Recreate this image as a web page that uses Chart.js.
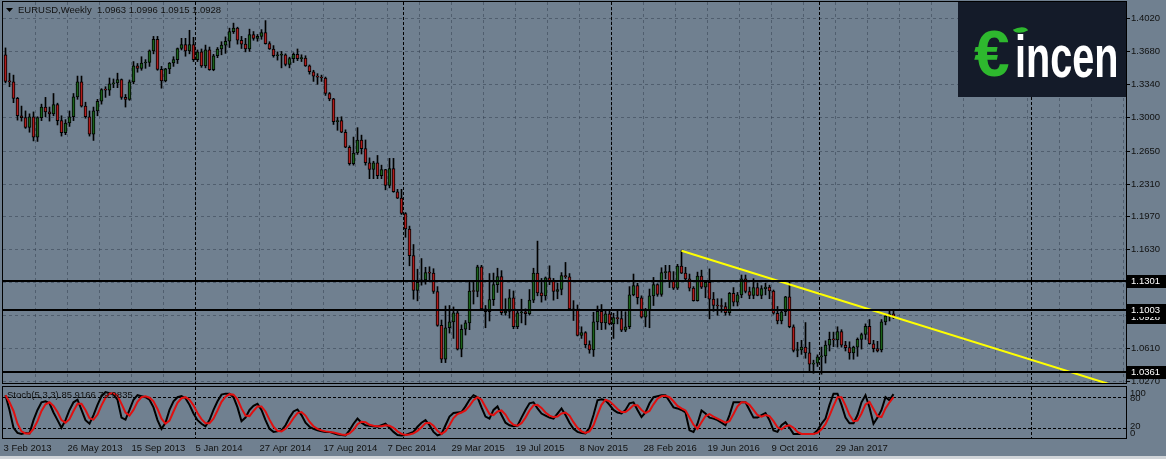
<!DOCTYPE html>
<html><head><meta charset="utf-8">
<script src="https://cdn.jsdelivr.net/npm/chart.js@4.4.0/dist/chart.umd.min.js"></script>
<style>
html,body{margin:0;padding:0;background:#708090;width:1166px;height:459px;overflow:hidden;}
#main{position:absolute;left:0;top:0;}
#stoch{position:absolute;left:0;top:385px;}
#logo{position:absolute;left:958px;top:2px;width:168px;height:95px;background:#141b29;overflow:hidden;}
#logo .e{position:absolute;left:16px;top:20px;font:bold 64px "Liberation Sans",sans-serif;color:#2eb82e;line-height:64px;}
#logo .t{position:absolute;left:57px;top:25px;font:bold 60px "Liberation Sans",sans-serif;color:#ffffff;line-height:60px;transform:scaleX(0.66);transform-origin:0 0;white-space:nowrap;}
#logo .leaf{position:absolute;left:56px;top:24px;width:13px;height:8px;background:#2eb82e;border-radius:0 100% 0 100%;transform:rotate(-30deg);}
#foot{position:absolute;left:0;top:456px;width:1166px;height:3px;background:#d0d4d8;}
</style></head><body>
<canvas id="main" width="1166" height="385"></canvas>
<canvas id="stoch" width="1166" height="74"></canvas>
<div id="logo"><span class="e">€</span><span class="t">incen</span><span class="leaf"></span></div>
<div id="foot"></div>
<script>
// ---------- DATA ----------
const symbol = 'EURUSD';
const period = 'Weekly';
const opens = [1.3640,1.3365,1.3360,1.3190,1.3010,1.2990,1.2890,1.3000,1.2790,1.2990,
1.3100,1.3050,1.3030,1.3125,1.2960,1.2835,1.2935,1.3000,1.3205,1.3360,
1.3110,1.3000,1.2820,1.3060,1.3160,1.3280,1.3275,1.3340,1.3350,1.3385,
1.3200,1.3180,1.3360,1.3525,1.3500,1.3555,1.3560,1.3680,1.3800,1.3490,
1.3370,1.3495,1.3555,1.3590,1.3705,1.3745,1.3680,1.3745,1.3590,1.3670,
1.3525,1.3690,1.3485,1.3630,1.3700,1.3740,1.3780,1.3880,1.3915,1.3790,
1.3750,1.3700,1.3850,1.3810,1.3830,1.3870,1.3755,1.3700,1.3630,1.3635,
1.3640,1.3540,1.3600,1.3645,1.3600,1.3605,1.3525,1.3465,1.3420,1.3410,
1.3400,1.3240,1.3185,1.2950,1.2960,1.2840,1.2685,1.2515,1.2625,1.2760,
1.2670,1.2525,1.2455,1.2525,1.2390,1.2455,1.2290,1.2465,1.2225,1.2160,
1.2000,1.1840,1.1565,1.1205,1.1290,1.1315,1.1390,1.1385,1.1195,1.0845,
1.0495,1.0820,1.0880,1.0975,1.0600,1.0805,1.0870,1.1200,1.1195,1.1450,
1.1015,1.0985,1.1110,1.1265,1.1350,1.0975,1.0990,1.1130,1.0830,1.0975,
1.0985,1.0965,1.1105,1.1385,1.1180,1.1150,1.1335,1.1300,1.1195,1.1215,
1.1360,1.1345,1.1015,1.1005,1.0740,1.0770,1.0645,1.0590,1.0880,1.0990,
1.0870,1.0965,1.0860,1.0925,1.0915,1.0795,1.0830,1.1160,1.1255,1.1130,
1.0930,1.1000,1.1150,1.1265,1.1165,1.1390,1.1400,1.1305,1.1230,1.1458,
1.1385,1.1325,1.1230,1.1100,1.1355,1.1240,1.1290,1.1115,1.1050,1.1045,
1.1040,1.0975,1.1175,1.1085,1.1160,1.1325,1.1195,1.1155,1.1235,1.1155,
1.1225,1.1240,1.1200,1.0970,1.0890,1.0985,1.1140,1.0830,1.0585,1.0590,
1.0620,1.0560,1.0445,1.0455,1.0520,1.0530,1.0640,1.0700,1.0695,1.0780,
1.0640,1.0615,1.0560,1.0620,1.0700,1.0750,1.0835,1.0655,1.0605,1.0590,
1.0880,1.0940,1.0963];
const highs = [1.3711,1.3450,1.3430,1.3200,1.3110,1.3060,1.3030,1.3050,1.3000,1.3130,
1.3200,1.3100,1.3240,1.3140,1.3010,1.2970,1.3060,1.3240,1.3420,1.3420,
1.3150,1.3060,1.3100,1.3180,1.3290,1.3310,1.3400,1.3390,1.3450,1.3390,
1.3230,1.3380,1.3570,1.3550,1.3620,1.3590,1.3690,1.3830,1.3830,1.3520,
1.3500,1.3560,1.3620,1.3710,1.3810,1.3810,1.3893,1.3820,1.3690,1.3700,
1.3740,1.3720,1.3645,1.3715,1.3775,1.3825,1.3915,1.3967,1.3925,1.3830,
1.3810,1.3905,1.3880,1.3850,1.3900,1.3993,1.3775,1.3735,1.3670,1.3675,
1.3650,1.3615,1.3660,1.3700,1.3640,1.3630,1.3535,1.3480,1.3445,1.3430,
1.3410,1.3250,1.3190,1.2995,1.3000,1.2865,1.2700,1.2790,1.2887,1.2810,
1.2760,1.2575,1.2540,1.2600,1.2500,1.2456,1.2570,1.2570,1.2250,1.2250,
1.2010,1.1870,1.1680,1.1425,1.1535,1.1445,1.1450,1.1430,1.1245,1.0900,
1.1045,1.1050,1.1035,1.0990,1.0850,1.0895,1.1290,1.1290,1.1466,1.1465,
1.1050,1.1380,1.1385,1.1435,1.1410,1.1120,1.1215,1.1200,1.0990,1.1115,
1.1015,1.1215,1.1435,1.1715,1.1330,1.1345,1.1460,1.1330,1.1280,1.1390,
1.1495,1.1380,1.1100,1.1055,1.0830,1.0780,1.0685,1.0980,1.1045,1.1060,
1.0990,1.0990,1.0970,1.0990,1.0990,1.0985,1.1245,1.1375,1.1280,1.1150,
1.1020,1.1220,1.1340,1.1275,1.1440,1.1465,1.1465,1.1400,1.1475,1.1616,
1.1445,1.1375,1.1245,1.1395,1.1415,1.1300,1.1428,1.1185,1.1120,1.1120,
1.1080,1.1185,1.1235,1.1185,1.1365,1.1365,1.1240,1.1327,1.1285,1.1255,
1.1280,1.1260,1.1210,1.1040,1.0990,1.1145,1.1300,1.0850,1.0670,1.0690,
1.0874,1.0670,1.0485,1.0540,1.0620,1.0685,1.0775,1.0775,1.0830,1.0800,
1.0680,1.0675,1.0630,1.0715,1.0765,1.0860,1.0905,1.0690,1.0680,1.0905,
1.0950,1.0995,1.0996];
const lows = [1.3350,1.3310,1.3145,1.2965,1.2955,1.2880,1.2840,1.2750,1.2745,1.2960,
1.3000,1.2955,1.3010,1.2915,1.2800,1.2815,1.2900,1.2960,1.3180,1.3100,
1.2985,1.2800,1.2755,1.3010,1.3130,1.3200,1.3220,1.3300,1.3300,1.3180,
1.3100,1.3170,1.3340,1.3460,1.3480,1.3500,1.3520,1.3650,1.3480,1.3295,
1.3360,1.3445,1.3520,1.3550,1.3690,1.3625,1.3650,1.3570,1.3570,1.3510,
1.3505,1.3480,1.3475,1.3610,1.3640,1.3655,1.3715,1.3860,1.3750,1.3705,
1.3670,1.3675,1.3790,1.3780,1.3800,1.3750,1.3695,1.3615,1.3585,1.3505,
1.3525,1.3505,1.3560,1.3580,1.3570,1.3520,1.3440,1.3365,1.3335,1.3365,
1.3220,1.3165,1.2920,1.2860,1.2835,1.2680,1.2500,1.2500,1.2610,1.2615,
1.2500,1.2360,1.2360,1.2360,1.2360,1.2245,1.2265,1.2220,1.2155,1.1990,
1.1755,1.1460,1.1115,1.1098,1.1260,1.1270,1.1315,1.1175,1.0835,1.0460,
1.0460,1.0765,1.0710,1.0590,1.0520,1.0745,1.0800,1.1065,1.1140,1.1005,
1.0820,1.0890,1.1050,1.1185,1.0955,1.0950,1.0920,1.0810,1.0810,1.0870,
1.0850,1.0950,1.1080,1.1150,1.1085,1.1105,1.1265,1.1105,1.1120,1.1160,
1.1330,1.1010,1.0895,1.0735,1.0710,1.0615,1.0557,1.0524,1.0800,1.0800,
1.0805,1.0850,1.0710,1.0860,1.0780,1.0780,1.0810,1.1150,1.1065,1.0920,
1.0830,1.0820,1.1050,1.1145,1.1145,1.1325,1.1235,1.1215,1.1215,1.1380,
1.1315,1.1200,1.1095,1.1095,1.1225,1.1130,1.0912,1.0990,1.0950,1.0980,
1.0950,1.0950,1.1045,1.1045,1.1130,1.1180,1.1120,1.1120,1.1150,1.1120,
1.1160,1.1120,1.0960,1.0860,1.0860,1.0945,1.0820,1.0570,1.0520,1.0545,
1.0505,1.0365,1.0350,1.0420,1.0340,1.0455,1.0580,1.0625,1.0620,1.0620,
1.0580,1.0495,1.0495,1.0525,1.0600,1.0700,1.0650,1.0570,1.0570,1.0570,
1.0850,1.0890,1.0915];
const closes = [1.3365,1.3360,1.3190,1.3010,1.2990,1.2890,1.3000,1.2790,1.2990,1.3100,
1.3050,1.3030,1.3125,1.2960,1.2835,1.2935,1.3000,1.3205,1.3360,1.3110,
1.3000,1.2820,1.3060,1.3160,1.3280,1.3275,1.3340,1.3350,1.3385,1.3200,
1.3180,1.3360,1.3525,1.3500,1.3555,1.3560,1.3680,1.3800,1.3490,1.3370,
1.3495,1.3555,1.3590,1.3705,1.3745,1.3680,1.3745,1.3590,1.3670,1.3525,
1.3690,1.3485,1.3630,1.3700,1.3740,1.3780,1.3880,1.3915,1.3790,1.3750,
1.3700,1.3850,1.3810,1.3830,1.3870,1.3755,1.3700,1.3630,1.3635,1.3640,
1.3540,1.3600,1.3645,1.3600,1.3605,1.3525,1.3465,1.3420,1.3410,1.3400,
1.3240,1.3185,1.2950,1.2960,1.2840,1.2685,1.2515,1.2625,1.2760,1.2670,
1.2525,1.2455,1.2525,1.2390,1.2455,1.2290,1.2465,1.2225,1.2160,1.2000,
1.1840,1.1565,1.1205,1.1290,1.1315,1.1390,1.1385,1.1195,1.0845,1.0495,
1.0820,1.0880,1.0975,1.0600,1.0805,1.0870,1.1200,1.1195,1.1450,1.1015,
1.0985,1.1110,1.1265,1.1350,1.0975,1.0990,1.1130,1.0830,1.0975,1.0985,
1.0965,1.1105,1.1385,1.1180,1.1150,1.1335,1.1300,1.1195,1.1215,1.1360,
1.1345,1.1015,1.1005,1.0740,1.0770,1.0645,1.0590,1.0880,1.0990,1.0870,
1.0965,1.0860,1.0925,1.0915,1.0795,1.0830,1.1160,1.1255,1.1130,1.0930,
1.1000,1.1150,1.1265,1.1165,1.1390,1.1400,1.1305,1.1230,1.1458,1.1385,
1.1325,1.1230,1.1100,1.1355,1.1240,1.1290,1.1115,1.1050,1.1045,1.1040,
1.0975,1.1175,1.1085,1.1160,1.1325,1.1195,1.1155,1.1235,1.1155,1.1225,
1.1240,1.1200,1.0970,1.0890,1.0985,1.1140,1.0830,1.0585,1.0590,1.0620,
1.0560,1.0445,1.0455,1.0520,1.0530,1.0640,1.0700,1.0695,1.0780,1.0640,
1.0615,1.0560,1.0620,1.0700,1.0750,1.0835,1.0655,1.0605,1.0580,1.0880,
1.0940,1.0963,1.0928];
// Stochastic (5,3,3) main (%K) and signal (%D)
const stochK = [84,55,20,10,8,10,9,35,55,70,72,68,50,35,20,35,55,70,75,55,
35,28,45,65,82,90,88,85,75,40,36,55,75,84,82,80,75,60,35,18,
30,55,72,80,82,78,65,48,35,28,23,35,55,72,85,87,87,80,60,33,
40,55,63,67,55,35,18,12,13,15,25,40,52,56,45,30,22,18,15,13,
12,12,9,7,6,5,15,28,38,30,25,24,23,22,25,28,20,12,6,5,
6,9,12,22,30,35,25,12,5,8,25,42,49,50,51,62,75,84,80,60,
42,38,55,62,45,30,25,23,24,40,55,68,70,58,48,44,40,38,48,58,
45,30,18,12,10,9,20,45,74,76,74,65,55,50,48,55,68,70,55,41,
50,68,80,82,84,84,72,60,58,55,50,15,12,28,54,48,40,38,35,30,
25,45,70,70,70,70,55,40,40,45,49,35,15,12,25,31,20,8,8,8,
8,8,8,15,28,38,65,87,87,65,40,29,29,45,70,84,60,28,40,55,
80,74,86];
const stochD = [84,70,53,28,13,9,9,18,33,53,66,70,63,51,35,30,37,53,67,67,
55,39,36,46,64,79,87,88,83,67,50,44,55,71,80,82,79,72,57,38,
28,34,52,69,78,80,75,64,49,37,29,29,38,54,71,81,86,85,76,58,
44,43,53,62,62,52,36,22,14,13,18,27,39,49,51,44,32,23,18,15,
13,12,11,9,7,6,9,16,27,32,31,26,24,23,23,25,24,20,13,8,
6,7,9,14,21,29,30,24,14,8,13,25,39,47,50,54,63,74,80,75,
61,47,45,52,54,46,33,26,24,29,40,54,64,65,59,50,44,41,42,48,
50,44,31,20,13,10,13,25,46,65,75,72,65,57,51,51,57,64,64,55,
49,53,66,77,82,83,80,72,63,58,54,40,26,18,31,43,47,42,38,34,
30,33,47,62,70,70,65,55,45,42,45,43,33,21,17,23,25,20,12,8,
8,8,8,10,17,27,44,63,80,80,64,45,33,34,48,66,71,57,43,41,
58,70,80];
const stochLabelK = '85.9166';
const stochLabelD = '79.9835';
const priceTicks = [1.4020,1.3680,1.3340,1.3000,1.2650,1.2310,1.1970,1.1630,1.1290,1.0950,1.0610,1.0270];
const levels = [1.1301,1.1003,1.0361];
const bidPrice = 1.0928;
const trendX = [169,276];
const trendY = [1.1616,1.0237];
const yearBreaks = [47.5,99.5,151.5,203.5,256.5];
const dateLabels = ['3 Feb 2013','26 May 2013','15 Sep 2013','5 Jan 2014','27 Apr 2014','17 Aug 2014','7 Dec 2014','29 Mar 2015','19 Jul 2015','8 Nov 2015','28 Feb 2016','19 Jun 2016','9 Oct 2016','29 Jan 2017'];
const dateLabelIdx = [0,16,32,48,64,80,96,112,128,144,160,176,192,208];
const stochLevels = [80,20];
const stochAxis = [100,80,20,0];

// ---------- STYLE ----------
const FONT = '9.5px "Liberation Sans", Arial, sans-serif';
const BULL = '#1a621a', BEAR = '#b01c1c';
const GRID = 'rgba(55,66,82,0.55)';
const XMIN = -0.625, XMAX = 280.125;
Chart.defaults.animation = false;

function seg(ctx,x0,y0,x1,y1){ctx.beginPath();ctx.moveTo(x0,y0);ctx.lineTo(x1,y1);ctx.stroke();}
function drawYearBreaks(ctx,x,a){
  ctx.save();ctx.strokeStyle='#000';ctx.lineWidth=1;ctx.setLineDash([3,2]);
  yearBreaks.forEach(v=>{const px=Math.floor(x.getPixelForValue(v))+0.5;seg(ctx,px,a.top,px,a.bottom);});
  ctx.restore();
}

const idx = opens.map((_,i)=>i);
const bodies = idx.map(i=>({x:i,y:[opens[i],closes[i]]}));
const wicks = idx.map(i=>({x:i,y:[lows[i],highs[i]]}));
const bodyColors = idx.map(i=>closes[i]>=opens[i]?BULL:BEAR);

const mainDeco = {
  id:'mainDeco',
  beforeDatasetsDraw(chart){
    const {ctx,chartArea:a,scales:{x,y}} = chart;
    ctx.save();
    ctx.strokeStyle=GRID;ctx.lineWidth=1;ctx.setLineDash([3,3]);
    priceTicks.forEach(v=>{const py=Math.round(y.getPixelForValue(v))+0.5;seg(ctx,a.left,py,a.right,py);});
    for(let k=7.5;k<XMAX;k+=8){const px=Math.floor(x.getPixelForValue(k))+0.5;if(px<a.right)seg(ctx,px,a.top,px,a.bottom);}
    ctx.restore();
    drawYearBreaks(ctx,x,a);
  },
  afterDatasetsDraw(chart){
    const {ctx,chartArea:a,scales:{x,y}} = chart;
    ctx.save();
    ctx.strokeStyle='#000';ctx.lineWidth=2;
    levels.forEach(v=>{const py=Math.round(y.getPixelForValue(v));seg(ctx,a.left,py,a.right,py);});
    ctx.lineWidth=1;
    ctx.strokeRect(a.left-0.5,a.top-0.5,a.width+1,a.height+1);
    ctx.font=FONT;ctx.fillStyle='#111';ctx.textBaseline='middle';ctx.textAlign='left';
    priceTicks.forEach(v=>{const py=Math.round(y.getPixelForValue(v))+0.5;seg(ctx,a.right+1,py,a.right+4,py);ctx.fillText(v.toFixed(4),a.right+5,py);});
    const box=(v)=>{const py=Math.round(y.getPixelForValue(v));ctx.fillStyle='#000';ctx.fillRect(a.right+1,py-6,39,13);ctx.fillStyle='#fff';ctx.fillText(v.toFixed(4),a.right+5,py+0.5);};
    box(bidPrice);
    levels.forEach(box);
    ctx.fillStyle='#000';
    ctx.beginPath();ctx.moveTo(6,8);ctx.lineTo(13,8);ctx.lineTo(9.5,12);ctx.closePath();ctx.fill();
    const n=closes.length-1;
    ctx.fillStyle='#111';
    ctx.fillText(symbol+','+period+'  '+opens[n].toFixed(4)+' '+highs[n].toFixed(4)+' '+lows[n].toFixed(4)+' '+closes[n].toFixed(4),18,10);
    ctx.restore();
  }
};

new Chart(document.getElementById('main'),{
  type:'bar',
  data:{datasets:[
    {type:'line',data:trendX.map((v,i)=>({x:v,y:trendY[i]})),borderColor:'#ffff00',borderWidth:2,pointRadius:0,order:0},
    {data:bodies,backgroundColor:bodyColors,borderColor:'#000',borderWidth:1,borderSkipped:false,barThickness:3,minBarLength:1,grouped:false,order:1},
    {data:wicks,backgroundColor:'#000',borderWidth:0,barThickness:1,grouped:false,order:2}
  ]},
  options:{
    responsive:false,animation:false,
    layout:{padding:{left:3,right:40,top:2,bottom:2}},
    plugins:{legend:{display:false},tooltip:{enabled:false}},
    scales:{
      x:{type:'linear',display:false,min:XMIN,max:XMAX,offset:false},
      y:{display:false,min:1.024934,max:1.418529}
    }
  },
  plugins:[mainDeco]
});

const stochDeco = {
  id:'stochDeco',
  beforeDatasetsDraw(chart){
    const {ctx,chartArea:a,scales:{x,y}} = chart;
    ctx.save();ctx.strokeStyle='#000';ctx.lineWidth=1;ctx.setLineDash([3,2]);
    stochLevels.forEach(v=>{const py=Math.round(y.getPixelForValue(v))+0.5;seg(ctx,a.left,py,a.right,py);});
    ctx.restore();
    drawYearBreaks(ctx,x,a);
  },
  afterDatasetsDraw(chart){
    const {ctx,chartArea:a,scales:{x,y}} = chart;
    ctx.save();
    ctx.strokeStyle='#000';ctx.lineWidth=1;
    ctx.strokeRect(a.left-0.5,a.top-0.5,a.width+1,a.height+1);
    ctx.font=FONT;ctx.fillStyle='#111';ctx.textBaseline='middle';ctx.textAlign='left';
    ctx.fillText('Stoch(5,3,3) '+stochLabelK+' '+stochLabelD,7,a.top+8);
    const off={100:6,80:1,20:-1,0:-5};
    stochAxis.forEach(v=>{const py=y.getPixelForValue(v)+off[v];ctx.fillText(String(v),a.right+4,py);});
    dateLabels.forEach((t,i)=>{const px=x.getPixelForValue(dateLabelIdx[i]);ctx.fillText(t,px-2,a.bottom+10);});
    ctx.restore();
  }
};

new Chart(document.getElementById('stoch'),{
  type:'line',
  data:{datasets:[
    {data:idx.map(i=>({x:i,y:stochD[i]})),borderColor:'#e01010',borderWidth:2,pointRadius:0,tension:0,order:0},
    {data:idx.map(i=>({x:i,y:stochK[i]})),borderColor:'#000',borderWidth:2,pointRadius:0,tension:0,order:1}
  ]},
  options:{
    responsive:false,animation:false,
    layout:{padding:{left:3,right:40,top:2,bottom:21}},
    plugins:{legend:{display:false},tooltip:{enabled:false}},
    scales:{
      x:{type:'linear',display:false,min:XMIN,max:XMAX},
      y:{display:false,min:0,max:100}
    }
  },
  plugins:[stochDeco]
});
</script>
</body></html>
